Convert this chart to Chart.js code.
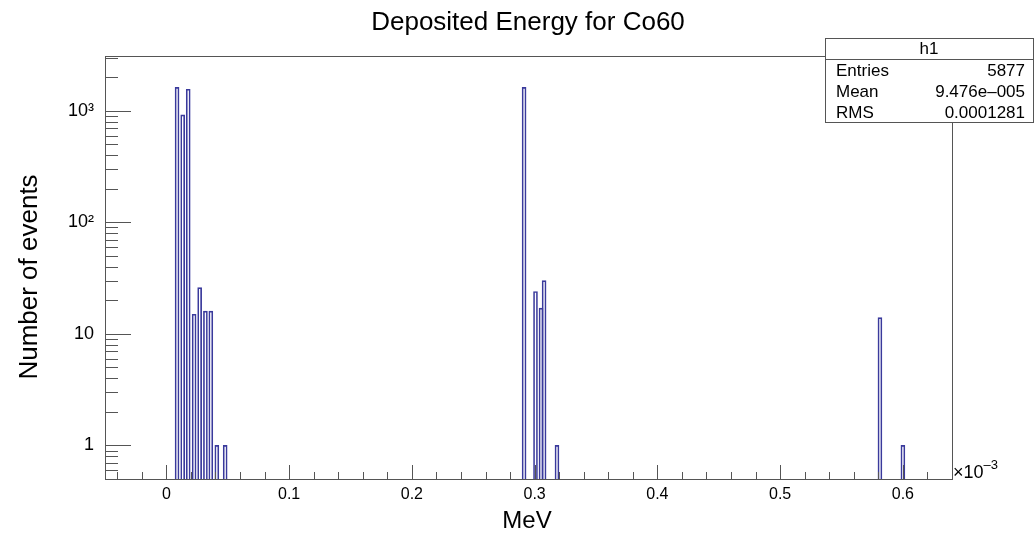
<!DOCTYPE html>
<html>
<head>
<meta charset="utf-8">
<script src="https://cdn.jsdelivr.net/npm/chart.js@4/dist/chart.umd.min.js"></script>
<style>
  html, body { margin: 0; padding: 0; background: #fff; }
  canvas { display: block; }
</style>
</head>
<body>
<canvas id="c" width="1034" height="538"></canvas>
<script>
// bin centres (in units of 10^-3 MeV) and counts
const energies = [0.0087, 0.0133, 0.0178, 0.0226, 0.0271, 0.0318, 0.0362, 0.0411, 0.0479,
                  0.2914, 0.3007, 0.3052, 0.3077, 0.3182,
                  0.5813, 0.6000];
const counts = [1620, 920, 1560, 15, 26, 16, 16, 1, 1,
                1620, 24, 17, 30, 1,
                14, 1];

const xTickValues = [0, 0.1, 0.2, 0.3, 0.4, 0.5, 0.6];
const xTickLabels = ["0", "0.1", "0.2", "0.3", "0.4", "0.5", "0.6"];
const yTickValues = [1, 10, 100, 1000];
const yTickLabels = ["1", "10", "10\u00B2", "10\u00B3"];

const statsTitle = "h1";
const statsNames = ["Entries", "Mean", "RMS"];
const statsValues = ["5877", "9.476e\u2013005", "0.0001281"];

const FONT = "'Liberation Sans', Arial, sans-serif";

// frame, tick marks, titles and stats box (ROOT style)
const rootStyle = {
  id: "rootStyle",
  afterDatasetsDraw(chart) {
    const { ctx, chartArea: a, scales: { x, y } } = chart;
    ctx.save();
    ctx.strokeStyle = "#555";
    ctx.lineWidth = 1;
    ctx.strokeRect(a.left + 0.5, a.top + 0.5, a.right - a.left, a.bottom - a.top);

    ctx.beginPath();
    for (let e = -1; e <= 3; e++) {
      for (let k = 1; k <= 9; k++) {
        const v = k * Math.pow(10, e);
        if (v < y.min || v > y.max) continue;
        const py = Math.round(y.getPixelForValue(v)) + 0.5;
        ctx.moveTo(a.left, py);
        ctx.lineTo(a.left + (k === 1 ? 26 : 13), py);
      }
    }
    for (let i = -2; i <= 32; i++) {
      const px = Math.round(x.getPixelForValue(i * 0.02)) + 0.5;
      ctx.moveTo(px, a.bottom);
      ctx.lineTo(px, a.bottom - (i % 5 === 0 ? 14 : 7));
    }
    ctx.stroke();
    ctx.restore();
  },
  afterDraw(chart) {
    const { ctx, chartArea: a } = chart;
    ctx.save();
    ctx.fillStyle = "#000";

    // title
    ctx.font = "26px " + FONT;
    ctx.textAlign = "center";
    ctx.textBaseline = "middle";
    ctx.fillText("Deposited Energy for Co60", 528, 23);

    // axis titles
    ctx.font = "24px " + FONT;
    ctx.fillText("MeV", 527, 521);
    ctx.save();
    ctx.translate(30, 277);
    ctx.rotate(-Math.PI / 2);
    ctx.font = "26px " + FONT;
    ctx.fillText("Number of events", 0, 0);
    ctx.restore();

    // x10^-3 multiplier
    ctx.textAlign = "left";
    ctx.textBaseline = "alphabetic";
    ctx.font = "18px " + FONT;
    ctx.fillText("\u00D710", a.right + 1, a.bottom - 1);
    const w = ctx.measureText("\u00D710").width;
    ctx.font = "13px " + FONT;
    ctx.fillText("\u20133", a.right + 1 + w, a.bottom - 10);

    // stats box
    const bx = 825, by = 38, bw = 208, bh = 84;
    ctx.fillStyle = "#fff";
    ctx.fillRect(bx, by, bw, bh);
    ctx.strokeStyle = "#555";
    ctx.lineWidth = 1;
    ctx.strokeRect(bx + 0.5, by + 0.5, bw, bh);
    ctx.beginPath();
    ctx.moveTo(bx, 59.5);
    ctx.lineTo(bx + bw, 59.5);
    ctx.stroke();

    ctx.fillStyle = "#000";
    ctx.font = "17px " + FONT;
    ctx.textBaseline = "middle";
    ctx.textAlign = "center";
    ctx.fillText(statsTitle, bx + bw / 2, 49);
    const rows = [71, 92, 113];
    statsNames.forEach((name, i) => {
      ctx.textAlign = "left";
      ctx.fillText(name, bx + 11, rows[i]);
      ctx.textAlign = "right";
      ctx.fillText(statsValues[i], 1025, rows[i]);
    });
    ctx.restore();
  }
};

new Chart(document.getElementById("c"), {
  type: "bar",
  data: {
    datasets: [{
      data: energies.map((e, i) => ({ x: e, y: counts[i] })),
      backgroundColor: "rgba(255,255,255,0)",
      borderColor: "#3a3a9c",
      borderWidth: 1,
      barThickness: 4
    }]
  },
  plugins: [rootStyle],
  options: {
    responsive: false,
    animation: false,
    devicePixelRatio: 1,
    layout: { padding: { left: 0, top: 56, right: 82, bottom: 0 } },
    plugins: {
      legend: { display: false },
      tooltip: { enabled: false }
    },
    scales: {
      x: {
        type: "linear",
        min: -0.05,
        max: 0.64,
        offset: false,
        grid: { display: false, drawTicks: false },
        border: { display: false },
        afterBuildTicks: s => { s.ticks = xTickValues.map(v => ({ value: v })); },
        afterFit: s => { s.height = 59; },
        ticks: {
          autoSkip: false,
          maxRotation: 0,
          padding: 6,
          color: "#000",
          font: { family: FONT, size: 16 },
          callback: (v, i) => xTickLabels[i]
        }
      },
      y: {
        type: "logarithmic",
        min: 0.5,
        max: 3100,
        grid: { display: false, drawTicks: false },
        border: { display: false },
        afterBuildTicks: s => { s.ticks = yTickValues.map(v => ({ value: v })); },
        afterFit: s => { s.width = 105; },
        ticks: {
          autoSkip: false,
          padding: 11,
          color: "#000",
          font: { family: FONT, size: 18 },
          callback: (v, i) => yTickLabels[i]
        }
      }
    }
  }
});
</script>
</body>
</html>
